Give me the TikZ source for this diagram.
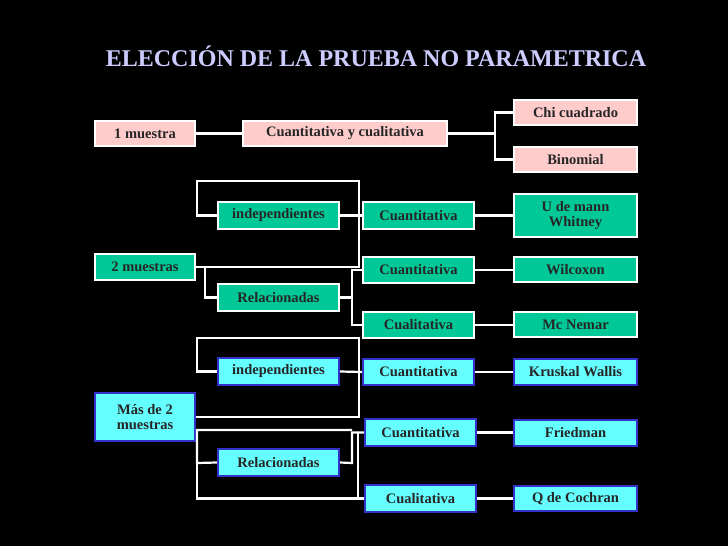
\documentclass[tikz,border=0pt]{standalone}
\usepackage{fontspec}
\setmainfont{Liberation Serif}
\begin{document}
\newcommand{\bx}[7]{\node[#6,minimum width={(#4-#2)*1pt},minimum height={(#5-#3)*1pt}] (#1) at ({(#2+#4)/2},{(#3+#5)/2}) {#7};}
\begin{tikzpicture}[x=1pt,y=-1pt,
  base/.style={draw,line width=2.2pt,inner sep=0pt,font=\bfseries\fontsize{14.5}{15}\selectfont,text=black!85,align=center},
  pk/.style={base,fill=red!20!white,draw=white},
  tl/.style={base,fill={rgb,255:red,0;green,200;blue,150},draw=white},
  bl/.style={base,fill={rgb,255:red,102;green,255;blue,255},draw={rgb,255:red,51;green,51;blue,204}},
  ln/.style={draw=white,line width=2.2pt}]
\fill[black] (0,0) rectangle (728,546);
\useasboundingbox (0,0) rectangle (728,546);
\node[font=\bfseries\fontsize{24}{26}\selectfont,text={rgb,255:red,204;green,204;blue,255}] (title) at (376,56) {ELECCIÓN DE LA PRUEBA NO PARAMETRICA};
\bx{m1}{95}{121}{195}{146}{pk}{1 muestra}
\bx{cyc}{243}{121}{447}{146}{pk}{Cuantitativa y cualitativa}
\bx{chi}{514}{100}{637}{125}{pk}{Chi cuadrado}
\bx{bin}{514}{147}{637}{172}{pk}{Binomial}
\bx{ind1}{218}{202}{339}{229}{tl}{independientes}
\bx{cn1}{363}{202}{474}{229}{tl}{Cuantitativa}
\bx{umw}{514}{194}{637}{237}{tl}{U de mann\\Whitney}
\bx{m2}{95}{254}{195}{280}{tl}{2 muestras}
\bx{cn2}{363}{257}{474}{283}{tl}{Cuantitativa}
\bx{wil}{514}{257}{637}{282}{tl}{Wilcoxon}
\bx{rel1}{218}{284}{339}{311}{tl}{Relacionadas}
\bx{cl1}{363}{312}{474}{338}{tl}{Cualitativa}
\bx{mcn}{514}{312}{637}{337}{tl}{Mc Nemar}
\bx{ind2}{218}{358}{339}{385}{bl}{independientes}
\bx{cn3}{363}{359}{474}{385}{bl}{Cuantitativa}
\bx{kw}{514}{359}{637}{385}{bl}{Kruskal Wallis}
\bx{m3}{95}{393}{195}{441}{bl}{Más de 2\\muestras}
\bx{cn4}{365}{419}{476}{446}{bl}{Cuantitativa}
\bx{fri}{514}{420}{637}{446}{bl}{Friedman}
\bx{rel2}{218}{449}{339}{476}{bl}{Relacionadas}
\bx{cl2}{365}{485}{476}{512}{bl}{Cualitativa}
\bx{qc}{514}{486}{637}{511}{bl}{Q de Cochran}
\draw[ln] (m1) -- (cyc);
\draw[ln] (cyc.east) -- (495,133.5);
\draw[ln] (chi.west) -| (495,133.5) |- (bin.west);
\foreach \a/\b in {cn1/umw,cn2/wil,cl1/mcn,cn3/kw,cn4/fri,cl2/qc}
  \draw[ln] (\a.east) -- (\a.east -| \b.west);
\draw[ln] (ind1.east) -- (cn1.west);
\draw[ln] (ind1.west) -| (197,181) -| (359,267) -| (m2.east);
\draw[ln] (m2.east |- 0,267) -- (205,267) |- (rel1.west);
\draw[ln] (rel1.east) -| (352,270) -- (cn2.west);
\draw[ln] (352,297) |- (cl1.west);
\draw[ln] (ind2.east) -- (cn3.west);
\draw[ln] (ind2.west) -| (197,338) -| (359,417) -- (m3.east |- 0,417);
\draw[ln] (rel2.west) -- (197,463) |- (352,430);
\draw[ln] (197,463) |- (cl2.west);
\draw[ln] (rel2.east) -- (352,463) |- (cn4.west);
\draw[ln] (358,432.5) -- (358,497);
\end{tikzpicture}
\end{document}
